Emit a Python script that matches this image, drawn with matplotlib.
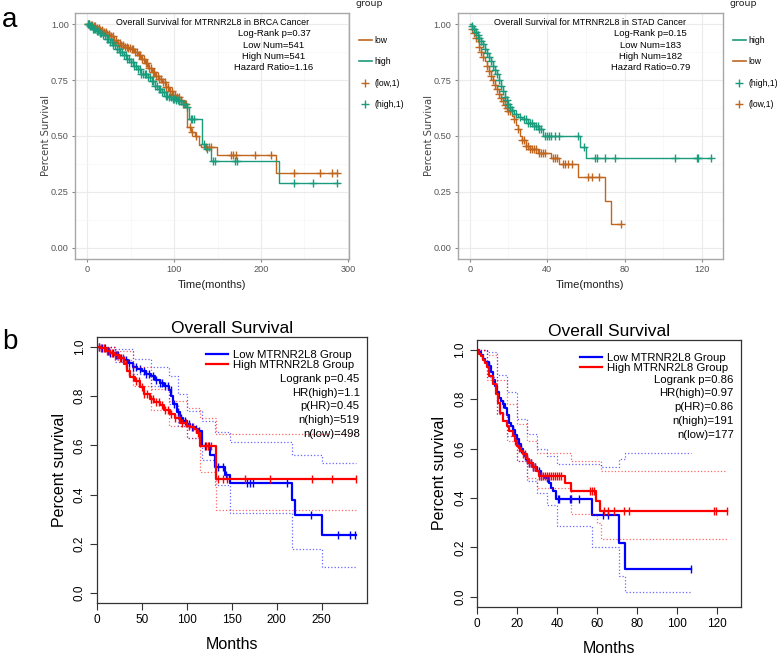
import numpy as np
import matplotlib
matplotlib.use("Agg")
from matplotlib import pyplot as plt
from matplotlib.lines import Line2D

W, H = 777, 655

# ---------------- data: panel a (ggplot style) ----------------
# BRCA
brca_low_t = [0, 3, 6, 10, 14, 18, 22, 26, 30, 34, 38, 42, 46, 50, 54, 58, 62, 66, 70, 74, 78, 82, 86,
              90, 94, 98, 102, 106, 110, 115, 119, 124, 129, 131, 149, 217]
brca_low_s = [1.0, 0.995, 0.99, 0.982, 0.975, 0.965, 0.955, 0.945, 0.93, 0.918, 0.908, 0.9, 0.895, 0.89,
              0.875, 0.86, 0.845, 0.825, 0.805, 0.785, 0.77, 0.755, 0.74, 0.72, 0.70, 0.685, 0.675, 0.66,
              0.645, 0.54, 0.52, 0.50, 0.46, 0.45, 0.416, 0.333]
brca_low_end = 287
brca_low_cens = [1, 2, 4, 5, 7, 9, 11, 13, 15, 17, 19, 21, 23, 25, 27, 29, 31, 33, 35, 37, 39, 41, 43, 45,
                 47, 49, 51, 53, 55, 57, 59, 61, 63, 65, 67, 69, 71, 73, 75, 77, 79, 81, 83, 85, 87, 89,
                 91, 93, 95, 97, 99, 101, 103, 105, 108, 111, 113, 118, 121, 125, 137, 140, 142, 165,
                 168, 171, 193, 211, 238, 268, 282, 287]
brca_high_t = [0, 3, 6, 10, 14, 18, 22, 26, 30, 34, 38, 42, 46, 50, 54, 58, 62, 70, 74, 78, 82, 86, 90,
               94, 98, 102, 106, 110, 114, 117, 132, 135, 142, 221]
brca_high_s = [1.0, 0.99, 0.98, 0.97, 0.96, 0.95, 0.935, 0.92, 0.905, 0.89, 0.875, 0.86, 0.845, 0.83,
               0.815, 0.80, 0.775, 0.765, 0.745, 0.725, 0.71, 0.695, 0.68, 0.675, 0.665, 0.66, 0.655,
               0.645, 0.63, 0.576, 0.465, 0.443, 0.387, 0.29]
brca_high_end = 288
brca_high_cens = [1, 2, 3, 5, 6, 8, 9, 11, 12, 14, 16, 18, 20, 22, 24, 26, 28, 30, 32, 34, 36, 38, 40,
                  42, 44, 46, 48, 50, 52, 54, 56, 58, 60, 62, 64, 66, 68, 70, 72, 74, 76, 78, 80, 82,
                  84, 86, 88, 90, 92, 94, 96, 98, 100, 102, 104, 106, 108, 110, 112, 115, 119, 121,
                  123, 134, 138, 145, 147, 170, 172, 238, 260, 288]

# STAD
stad_high_t = [0, 1, 2, 3, 4, 5, 6, 7, 8, 9, 10, 11, 12, 13, 14, 15, 16, 17, 18, 19, 20, 21, 22, 23,
               25, 27, 30, 33, 36, 38, 57, 60]
stad_high_s = [1.0, 0.99, 0.98, 0.965, 0.95, 0.94, 0.925, 0.91, 0.89, 0.87, 0.855, 0.835, 0.815, 0.795,
               0.775, 0.75, 0.725, 0.70, 0.675, 0.66, 0.645, 0.63, 0.615, 0.60, 0.585, 0.575, 0.56,
               0.545, 0.53, 0.50, 0.45, 0.40]
stad_high_end = 124.5
stad_high_cens = [1, 2, 3, 4, 5, 6, 7, 8, 9, 10, 11, 12, 13, 14, 15, 16, 17, 18, 19, 20, 21, 22, 24,
                  26, 28, 29, 30, 31, 32, 33, 34, 35, 36, 37, 39, 40, 41, 42, 44, 46, 56, 59, 64.8,
                  65.5, 70, 75, 106, 117.5, 118, 124.5]
stad_low_t = [0, 1, 2, 3, 4, 5, 6, 7, 8, 9, 10, 11, 12, 13, 14, 15, 16, 17, 18, 19, 20, 22, 23, 24,
              25, 26, 27, 29, 31, 35, 42, 46, 56, 70, 73]
stad_low_s = [1.0, 0.98, 0.96, 0.94, 0.92, 0.90, 0.875, 0.855, 0.835, 0.815, 0.79, 0.77, 0.75, 0.73,
              0.71, 0.69, 0.67, 0.655, 0.64, 0.625, 0.61, 0.59, 0.575, 0.55, 0.53, 0.50, 0.48, 0.455,
              0.44, 0.425, 0.40, 0.373, 0.317, 0.21, 0.105]
stad_low_end = 78
stad_low_cens = [1, 2, 3, 5, 6, 7, 9, 10, 11, 12, 13, 14, 15, 16, 17, 18, 19, 20, 21, 23, 25, 27, 28,
                 29, 30, 31, 32, 33, 34, 36, 37, 38, 39, 43, 44, 45, 48, 49, 51, 53, 61, 63, 67, 78]

# ---------------- data: panel b (GEPIA style) ----------------
gb_low_t = [0, 5, 10, 15, 20, 25, 30, 35, 40, 45, 50, 55, 60, 65, 70, 75, 80, 83, 85, 89, 93, 96, 100,
            104, 109, 113, 117, 126, 131, 143, 148, 217, 220, 250]
gb_low_s = [1.0, 0.995, 0.985, 0.975, 0.965, 0.955, 0.945, 0.935, 0.92, 0.91, 0.90, 0.89, 0.88, 0.865,
            0.855, 0.84, 0.825, 0.80, 0.77, 0.735, 0.71, 0.70, 0.685, 0.675, 0.665, 0.658, 0.596, 0.56,
            0.514, 0.48, 0.448, 0.38, 0.318, 0.237]
gb_low_end = 288
gb_low_cens = [3, 6, 9, 12, 15, 18, 21, 24, 27, 30, 33, 36, 40, 44, 48, 52, 55, 58, 62, 66, 70, 73, 76,
               79, 82, 86, 90, 94, 98, 102, 106, 110, 114, 120, 125, 135, 140, 144, 167, 170, 174, 211,
               238, 268, 281, 287]
gb_high_t = [0, 5, 10, 15, 20, 25, 30, 34, 37, 42, 48, 53, 59, 64, 70, 75, 81, 87, 93, 100, 104, 108,
             111, 115, 132]
gb_high_s = [1.0, 0.995, 0.985, 0.975, 0.965, 0.955, 0.93, 0.90, 0.877, 0.86, 0.836, 0.81, 0.788,
             0.775, 0.765, 0.745, 0.726, 0.71, 0.69, 0.68, 0.675, 0.665, 0.65, 0.596, 0.463]
gb_high_end = 288
gb_high_cens = [2, 5, 8, 11, 14, 17, 20, 23, 26, 29, 32, 36, 40, 44, 47, 50, 53, 56, 60, 63, 66, 69, 72,
                76, 79, 83, 87, 91, 95, 99, 103, 107, 112, 121, 124, 127, 135, 140, 145, 165, 193, 239,
                261, 288]
gb_high_up_t = [0, 20, 40, 60, 80, 100, 115, 132]
gb_high_up_s = [1.0, 0.985, 0.92, 0.83, 0.78, 0.75, 0.71, 0.647]
gb_high_lo_t = [0, 20, 40, 60, 80, 100, 115, 132]
gb_high_lo_s = [1.0, 0.945, 0.84, 0.745, 0.68, 0.63, 0.49, 0.336]
gb_low_up_t = [0, 20, 40, 60, 80, 90, 100, 117, 131, 148, 217, 250]
gb_low_up_s = [1.0, 0.99, 0.95, 0.92, 0.88, 0.81, 0.74, 0.70, 0.655, 0.612, 0.559, 0.53]
gb_low_lo_t = [0, 20, 40, 60, 80, 90, 100, 117, 131, 148, 217, 250]
gb_low_lo_s = [1.0, 0.94, 0.89, 0.84, 0.77, 0.68, 0.63, 0.54, 0.44, 0.325, 0.18, 0.105]

gs_low_t = [0, 1, 2, 3, 4, 6, 7, 8, 9, 10, 11, 12, 13, 14, 15, 16, 17, 18, 19, 20, 21, 22, 23, 24, 25,
            26, 28, 30, 32, 34, 36, 37, 38, 39.5, 57.5, 71, 74]
gs_low_s = [1.0, 0.99, 0.98, 0.965, 0.95, 0.935, 0.91, 0.88, 0.855, 0.83, 0.807, 0.795, 0.78, 0.766,
            0.735, 0.705, 0.69, 0.675, 0.655, 0.638, 0.62, 0.60, 0.584, 0.57, 0.555, 0.543, 0.525,
            0.51, 0.49, 0.482, 0.459, 0.44, 0.428, 0.395, 0.33, 0.219, 0.111]
gs_low_end = 107
gs_low_cens = [6, 13, 18, 22, 24, 25, 26, 27, 28, 29, 31, 32, 35, 40.5, 41, 46.3, 46.8, 50.8, 63, 65.5, 107]
gs_high_t = [0, 1, 2, 3, 4, 5, 6, 8, 9.5, 10.5, 11.5, 13, 15, 16, 18, 19, 20, 21, 22, 23, 25, 26, 28,
             29.5, 31, 44, 47, 59.5, 61.5]
gs_high_s = [1.0, 0.985, 0.975, 0.96, 0.945, 0.93, 0.895, 0.86, 0.82, 0.785, 0.746, 0.712, 0.69, 0.67,
             0.65, 0.63, 0.612, 0.604, 0.59, 0.577, 0.56, 0.543, 0.525, 0.51, 0.489, 0.459, 0.428,
             0.388, 0.347]
gs_high_end = 125
gs_high_cens = [19, 21, 23, 24, 25, 26, 27, 28, 29, 31, 32, 33, 34, 35, 36, 37, 38, 39, 40, 41, 42,
                56.3, 57.3, 58.3, 63.5, 65.5, 68.5, 73.5, 75.8, 118.5, 119.2, 125]
gs_low_up_t = [0, 5, 10, 15, 20, 25, 30, 35, 40, 62, 71, 74]
gs_low_up_s = [1.0, 0.99, 0.90, 0.83, 0.72, 0.66, 0.60, 0.57, 0.536, 0.527, 0.557, 0.581]
gs_low_lo_t = [0, 5, 10, 15, 20, 25, 30, 35, 40, 57.5, 71, 74]
gs_low_lo_s = [1.0, 0.89, 0.74, 0.65, 0.55, 0.47, 0.42, 0.37, 0.286, 0.203, 0.084, 0.019]
gs_high_up_t = [0, 5, 10, 15, 20, 25, 30, 47, 62]
gs_high_up_s = [1.0, 0.98, 0.88, 0.78, 0.70, 0.63, 0.584, 0.55, 0.51]
gs_high_lo_t = [0, 5, 10, 15, 20, 25, 30, 47, 60, 62]
gs_high_lo_s = [1.0, 0.88, 0.74, 0.63, 0.55, 0.48, 0.44, 0.334, 0.30, 0.235]

ARIAL = ['Liberation Sans', 'DejaVu Sans']
BROWN = '#C0661F'
TEAL = '#1A9B7C'
BLUE = '#0000FF'
RED = '#FF0000'


def rect(l, t, r, b):
    # pixel box -> figure fraction
    return [l / W, 1 - b / H, (r - l) / W, (b - t) / H]


def surv_at(ts, ss, tc):
    idx = np.searchsorted(np.asarray(ts), np.asarray(tc), side='right') - 1
    return np.asarray(ss)[np.clip(idx, 0, len(ss) - 1)]


def km(ax, ts, ss, end, cens, color, lw, marker, ms, ls='-', alpha=1.0):
    x = list(ts) + [end]
    y = list(ss) + [ss[-1]]
    ax.step(x, y, where='post', color=color, lw=lw, ls=ls, alpha=alpha)
    if cens is not None:
        ax.plot(cens, surv_at(ts, ss, cens), ls='none', marker=marker, ms=ms,
                mew=1.0, color=color, alpha=alpha)


fig = plt.figure(figsize=(W / 100, H / 100), dpi=100)


def gg_axes(box, xmax_data, xticks, xminor):
    ax = fig.add_axes(rect(*box))
    pad = xmax_data * 0.05
    ax.set_xlim(-pad, xmax_data + pad)
    ax.set_ylim(-0.05, 1.05)
    ax.set_xticks(xticks)
    ax.set_xticks(xminor, minor=True)
    ax.set_yticks([0, 0.25, 0.5, 0.75, 1.0])
    ax.set_yticks([0.125, 0.375, 0.625, 0.875], minor=True)
    ax.set_yticklabels(['0.00', '0.25', '0.50', '0.75', '1.00'])
    ax.grid(True, which='major', color='#EBEBEB', lw=0.8)
    ax.grid(True, which='minor', color='#F5F5F5', lw=0.5)
    ax.set_axisbelow(True)
    for s in ax.spines.values():
        s.set_color('#A8A8A8')
        s.set_linewidth(1.0)
    ax.tick_params(which='major', length=2.5, color='#888888', labelcolor='#555555', labelsize=6.6, pad=2)
    ax.tick_params(which='minor', length=0)
    for lab in ax.get_xticklabels() + ax.get_yticklabels():
        lab.set_family(ARIAL)
    ax.set_xlabel('Time(months)', family=ARIAL, fontsize=8, color='#222222', labelpad=4)
    ax.set_ylabel('Percent Survival', family='DejaVu Sans', fontsize=7.2, color='#444444', labelpad=0)
    return ax


# ---------------- panel a left (BRCA) ----------------
boxA = (75, 13, 349, 259)
axA = gg_axes(boxA, 287, [0, 100, 200, 300], [50, 150, 250])
km(axA, brca_low_t, brca_low_s, brca_low_end, brca_low_cens, BROWN, 1.0, '+', 5.5)
km(axA, brca_high_t, brca_high_s, brca_high_end, brca_high_cens, TEAL, 1.0, '+', 5.5)

# ---------------- panel a right (STAD) ----------------
boxB = (457.7, 13, 723, 259)
axB = gg_axes(boxB, 124.6, [0, 40, 80, 120], [20, 60, 100])
km(axB, stad_low_t, stad_low_s, stad_low_end, stad_low_cens, BROWN, 1.0, '+', 5.5)
km(axB, stad_high_t, stad_high_s, stad_high_end, stad_high_cens, TEAL, 1.0, '+', 5.5)


def gg_text(ax, box, title, title_cx, stats, stats_cx):
    l, t, r, b = box

    def ax_xy(px, py):
        return (px - l) / (r - l), (b - py) / (b - t)
    x, y = ax_xy(title_cx, 22.7)
    ax.text(x, y, title, transform=ax.transAxes, ha='center', va='center',
            family=ARIAL, fontsize=6.4, color='black')
    for i, s in enumerate(stats):
        x, y = ax_xy(stats_cx, 33.7 + 11.4 * i)
        ax.text(x, y, s, transform=ax.transAxes, ha='center', va='center',
                family=ARIAL, fontsize=6.8, color='black')


gg_text(axA, boxA, 'Overall Survival for MTRNR2L8 in BRCA Cancer', 212.5,
        ['Log-Rank p=0.37', 'Low Num=541', 'High Num=541', 'Hazard Ratio=1.16'], 274)
gg_text(axB, boxB, 'Overall Survival for MTRNR2L8 in STAD Cancer', 590.5,
        ['Log-Rank p=0.15', 'Low Num=183', 'High Num=182', 'Hazard Ratio=0.79'], 650.5)


def gg_legend(ax, box, labels, colors, kinds, x_px):
    l, t, r, b = box
    handles = []
    for c, k in zip(colors, kinds):
        if k == 'line':
            handles.append(Line2D([], [], color=c, lw=1.2))
        else:
            handles.append(Line2D([], [], color=c, ls='none', marker='+', ms=6, mew=1.0))
    ax.legend(handles, labels, loc='upper left',
              bbox_to_anchor=((x_px - l) / (r - l), (b - 36) / (b - t)),
              frameon=False, borderpad=0, borderaxespad=0, handlelength=1.5,
              handletextpad=0.25, labelspacing=1.45, prop={'family': ARIAL, 'size': 6.2})
    ax.text((x_px - 3 - l) / (r - l), (b - 4) / (b - t), 'group', transform=ax.transAxes,
            ha='left', va='center', family='DejaVu Sans', fontsize=6.8, color='#222222')


gg_legend(axA, boxA, ['low', 'high', '(low,1)', '(high,1)'],
          [BROWN, TEAL, BROWN, TEAL], ['line', 'line', 'pt', 'pt'], 359)
gg_legend(axB, boxB, ['high', 'low', '(high,1)', '(low,1)'],
          [TEAL, BROWN, TEAL, BROWN], ['line', 'line', 'pt', 'pt'], 733)


# ---------------- panel b (R base style) ----------------
def r_axes(box, xmax, xticks, curves, stats, stat_y0):
    l, t, r, b = box
    ax = fig.add_axes(rect(l, t, r, b))
    ax.set_xlim(0, xmax)
    ax.set_ylim(-0.04, 1.04)
    ax.set_xticks(xticks)
    ax.set_yticks([0, 0.2, 0.4, 0.6, 0.8, 1.0])
    ax.set_yticklabels(['0.0', '0.2', '0.4', '0.6', '0.8', '1.0'], rotation=90, va='center')
    ax.tick_params(length=5, width=0.8, labelsize=8.5, pad=3, color='#333333')
    for lab in ax.get_xticklabels() + ax.get_yticklabels():
        lab.set_family(ARIAL)
    for s in ax.spines.values():
        s.set_color('#333333')
        s.set_linewidth(0.9)
    ax.set_xlabel('Months', family=ARIAL, fontsize=11.5, labelpad=8)
    ax.set_ylabel('Percent survival', family=ARIAL, fontsize=11.5, labelpad=5)
    ax.set_title('Overall Survival', family=ARIAL, fontsize=12.5, pad=3)
    for (ts, ss, end, cens, color, ci) in curves:
        for cts, css in ci:
            km(ax, cts, css, end, None, color, 0.9, '|', 6, ls=':', alpha=0.6)
        km(ax, ts, ss, end, cens, color, 1.6, '|', 6)
    h = [Line2D([], [], color=BLUE, lw=1.6), Line2D([], [], color=RED, lw=1.6)]
    ax.legend(h, ['Low MTRNR2L8 Group', 'High MTRNR2L8 Group'], loc='upper right',
              bbox_to_anchor=(1.0, 1.0), frameon=False, borderpad=0.35, borderaxespad=0.75,
              handlelength=1.95, handletextpad=0.4, labelspacing=0.08,
              prop={'family': ARIAL, 'size': 8.2})
    for i, s in enumerate(stats):
        py = b - (t + stat_y0 + 13.7 * i)
        ax.text(1 - 7 / (r - l), py / (b - t), s, transform=ax.transAxes, ha='right', va='center',
                family=ARIAL, fontsize=8.2)
    return ax


axC = r_axes((96.7, 337, 366.7, 603), 300, [0, 50, 100, 150, 200, 250],
             [(gb_low_t, gb_low_s, gb_low_end, gb_low_cens, BLUE,
               [(gb_low_up_t, gb_low_up_s), (gb_low_lo_t, gb_low_lo_s)]),
              (gb_high_t, gb_high_s, gb_high_end, gb_high_cens, RED,
               [(gb_high_up_t, gb_high_up_s), (gb_high_lo_t, gb_high_lo_s)])],
             ['Logrank p=0.45', 'HR(high)=1.1', 'p(HR)=0.45', 'n(high)=519', 'n(low)=498'], 41.8)

axD = r_axes((477.3, 340, 740.7, 606.7), 131.7, [0, 20, 40, 60, 80, 100, 120],
             [(gs_low_t, gs_low_s, gs_low_end, gs_low_cens, BLUE,
               [(gs_low_up_t, gs_low_up_s), (gs_low_lo_t, gs_low_lo_s)]),
              (gs_high_t, gs_high_s, gs_high_end, gs_high_cens, RED,
               [(gs_high_up_t, gs_high_up_s), (gs_high_lo_t, gs_high_lo_s)])],
             ['Logrank p=0.86', 'HR(high)=0.97', 'p(HR)=0.86', 'n(high)=191', 'n(low)=177'], 39.8)

fig.text(2 / W, 1 - 20 / H, 'a', family=ARIAL, fontsize=20, va='center', ha='left')
fig.text(2 / W, 1 - 342 / H, 'b', family=ARIAL, fontsize=20, va='center', ha='left')

fig.savefig('out.png', dpi=100)
plt.close(fig)
